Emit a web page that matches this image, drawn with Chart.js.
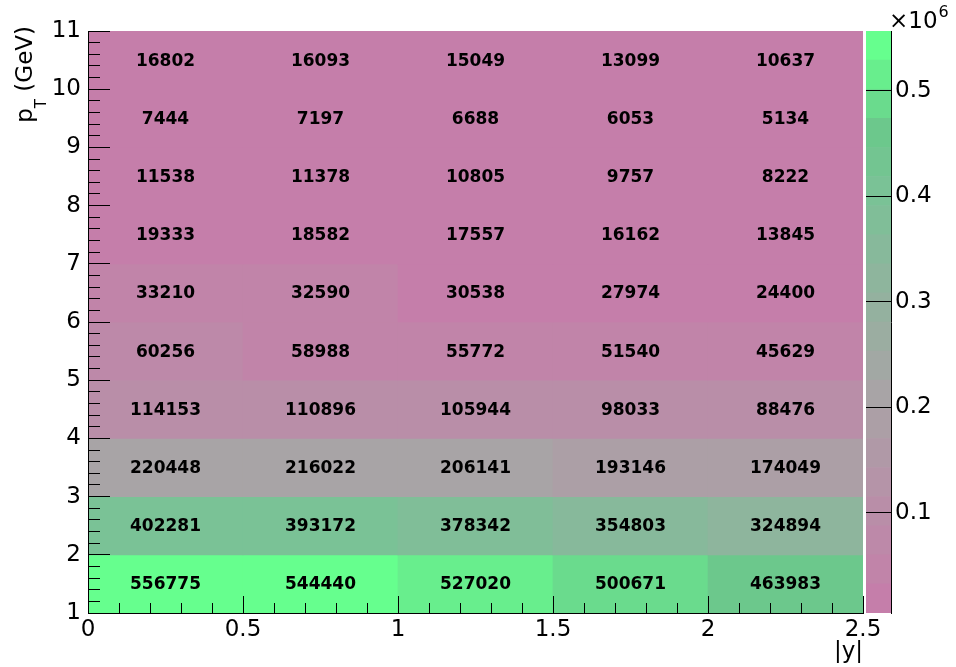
<!DOCTYPE html>
<html>
<head>
<meta charset="utf-8">
<script src="https://cdn.jsdelivr.net/npm/chart.js@4.4.1/dist/chart.umd.min.js"></script>
<style>
  html, body { margin: 0; padding: 0; background: #ffffff; }
  #wrap { position: relative; width: 956px; height: 667px; }
  #wrap canvas { position: absolute; left: 0; top: 0; }
</style>
</head>
<body>
<div id="wrap">
  <canvas id="main" width="956" height="667"></canvas>
  <canvas id="zbar" width="956" height="667"></canvas>
</div>
<script>
// Bin edges: |y| along x, pT (GeV) along y
const rapidityEdges = [0, 0.5, 1, 1.5, 2, 2.5];
const ptEdges = [1, 2, 3, 4, 5, 6, 7, 8, 9, 10, 11];

// Yields per pT bin, one value per |y| bin
const counts_pt1_2   = [556775, 544440, 527020, 500671, 463983];
const counts_pt2_3   = [402281, 393172, 378342, 354803, 324894];
const counts_pt3_4   = [220448, 216022, 206141, 193146, 174049];
const counts_pt4_5   = [114153, 110896, 105944, 98033, 88476];
const counts_pt5_6   = [60256, 58988, 55772, 51540, 45629];
const counts_pt6_7   = [33210, 32590, 30538, 27974, 24400];
const counts_pt7_8   = [19333, 18582, 17557, 16162, 13845];
const counts_pt8_9   = [11538, 11378, 10805, 9757, 8222];
const counts_pt9_10  = [7444, 7197, 6688, 6053, 5134];
const counts_pt10_11 = [16802, 16093, 15049, 13099, 10637];
const countsByPt = [counts_pt1_2, counts_pt2_3, counts_pt3_4, counts_pt4_5, counts_pt5_6,
                    counts_pt6_7, counts_pt7_8, counts_pt8_9, counts_pt9_10, counts_pt10_11];

// Axis ticks
const xTickValues = [0, 0.5, 1, 1.5, 2, 2.5];
const xTickLabels = ['0', '0.5', '1', '1.5', '2', '2.5'];
const yTickValues = [1, 2, 3, 4, 5, 6, 7, 8, 9, 10, 11];
const yTickLabels = ['1', '2', '3', '4', '5', '6', '7', '8', '9', '10', '11'];
const zTickValues = [100000, 200000, 300000, 400000, 500000];
const zTickLabels = ['0.1', '0.2', '0.3', '0.4', '0.5'];

// Pink -> grey -> green colour table
const paletteStops = [
  [0.00, [201, 121, 170]],
  [0.40, [168, 164, 166]],
  [0.75, [122, 194, 150]],
  [0.85, [108, 200, 140]],
  [1.00, [102, 255, 142]]
];
const N_COLORS = 255;
const N_CONTOURS = 20;

function paletteColor(idx) {
  const f = idx / (N_COLORS - 1);
  for (let i = 1; i < paletteStops.length; i++) {
    const [f0, c0] = paletteStops[i - 1];
    const [f1, c1] = paletteStops[i];
    if (f <= f1) {
      const t = (f - f0) / (f1 - f0);
      const c = c0.map((a, j) => Math.round(a + (c1[j] - a) * t));
      return `rgb(${c[0]},${c[1]},${c[2]})`;
    }
  }
  const c = paletteStops[paletteStops.length - 1][1];
  return `rgb(${c[0]},${c[1]},${c[2]})`;
}

const allCounts = countsByPt.flat();
const zMin = Math.min(...allCounts);
const zMax = Math.max(...allCounts);

function contourIndex(v) {
  return Math.floor(0.01 + (v - zMin) * N_CONTOURS / (zMax - zMin));
}
function contourColor(k) {
  let idx = Math.floor((k + 0.99) * N_COLORS / N_CONTOURS);
  if (idx > N_COLORS - 1) idx = N_COLORS - 1;
  return paletteColor(idx);
}

// One floating bar per cell
const cells = [];
const cellColors = [];
countsByPt.forEach((row, j) => {
  row.forEach((v, i) => {
    cells.push({ x: (rapidityEdges[i] + rapidityEdges[i + 1]) / 2, y: [ptEdges[j], ptEdges[j + 1]], v: v });
    cellColors.push(contourColor(contourIndex(v)));
  });
});

const minorX = [];
for (let k = 0; k <= 25; k++) minorX.push(k / 10);
const minorY = [];
for (let k = 0; k <= 50; k++) minorY.push(1 + k / 5);

const FONT = 'DejaVu Sans';

const cellLabels = {
  id: 'cellLabels',
  afterDatasetsDraw(chart) {
    const meta = chart.getDatasetMeta(0);
    const data = chart.data.datasets[0].data;
    const ctx = chart.ctx;
    ctx.save();
    ctx.font = `bold 17px "${FONT}"`;
    ctx.fillStyle = '#000';
    ctx.textAlign = 'center';
    ctx.textBaseline = 'middle';
    meta.data.forEach((bar, i) => {
      const p = bar.getCenterPoint();
      ctx.fillText(String(data[i].v), p.x, p.y + 1);
    });
    ctx.restore();
  }
};

const axisTitles = {
  id: 'axisTitles',
  afterDraw(chart) {
    const ctx = chart.ctx;
    const area = chart.chartArea;
    ctx.save();
    ctx.fillStyle = '#000';
    // |y| at the right end of the x axis
    ctx.font = `23px "${FONT}"`;
    ctx.textAlign = 'right';
    ctx.textBaseline = 'alphabetic';
    ctx.fillText('|y|', area.right, 658);
    // p_T (GeV) along the top of the y axis
    ctx.translate(32, area.top - 5);
    ctx.rotate(-Math.PI / 2);
    ctx.textAlign = 'left';
    const big = `23px "${FONT}"`;
    const small = `15px "${FONT}"`;
    ctx.font = big;
    const wP = ctx.measureText('p').width;
    const wRest = ctx.measureText(' (GeV)').width;
    ctx.font = small;
    const wT = ctx.measureText('T').width;
    let x0 = -(wP + wT + wRest);
    ctx.font = big;
    ctx.fillText('p', x0, 0);
    ctx.font = small;
    ctx.fillText('T', x0 + wP, 14);
    ctx.font = big;
    ctx.fillText(' (GeV)', x0 + wP + wT, 0);
    ctx.restore();
  }
};

const tickFont = { family: FONT, size: 23 };

// Inward tick marks: labels keep their own spacing, no extra layout padding from it
function noLabelOverhang(s) {
  s.paddingTop = 0;
  s.paddingBottom = 0;
  s.paddingLeft = 0;
  s.paddingRight = 0;
}

new Chart(document.getElementById('main'), {
  type: 'bar',
  data: {
    datasets: [{
      data: cells,
      backgroundColor: cellColors,
      borderWidth: 0,
      barPercentage: 1,
      categoryPercentage: 1,
      xAxisID: 'x',
      yAxisID: 'y'
    }]
  },
  options: {
    responsive: false,
    animation: false,
    devicePixelRatio: 1,
    layout: { padding: { left: 0, top: 31, right: 93, bottom: 0 } },
    plugins: { legend: { display: false }, tooltip: { enabled: false } },
    scales: {
      x: {
        type: 'linear', position: 'bottom', min: 0, max: 2.5, offset: false, weight: 1,
        afterBuildTicks: s => { s.ticks = xTickValues.map(v => ({ value: v })); },
        afterFit: s => { s.height = 54; noLabelOverhang(s); },
        grid: { offset: false, drawOnChartArea: false, drawTicks: true, tickLength: -17, tickColor: '#000', tickWidth: 1, z: 1 },
        border: { display: true, color: '#000', width: 1, z: 1 },
        ticks: { autoSkip: false, maxRotation: 0, padding: 20, color: '#000', font: tickFont,
                 callback: (v, i) => xTickLabels[i] }
      },
      xMinor: {
        type: 'linear', position: 'bottom', min: 0, max: 2.5, offset: false, weight: 0,
        afterBuildTicks: s => { s.ticks = minorX.map(v => ({ value: v })); },
        afterFit: s => { s.height = 0; noLabelOverhang(s); },
        grid: { offset: false, drawOnChartArea: false, drawTicks: true, tickLength: -10, tickColor: '#000', tickWidth: 1, z: 1 },
        border: { display: false },
        ticks: { display: false, autoSkip: false }
      },
      y: {
        type: 'linear', position: 'left', min: 1, max: 11, weight: 1,
        afterBuildTicks: s => { s.ticks = yTickValues.map(v => ({ value: v })); },
        afterFit: s => { s.width = 88; noLabelOverhang(s); },
        grid: { offset: false, drawOnChartArea: false, drawTicks: true, tickLength: -22, tickColor: '#000', tickWidth: 1, z: 1 },
        border: { display: true, color: '#000', width: 1, z: 1 },
        ticks: { autoSkip: false, padding: 29, color: '#000', font: tickFont,
                 callback: (v, i) => yTickLabels[i] }
      },
      yMinor: {
        type: 'linear', position: 'left', min: 1, max: 11, weight: 0,
        afterBuildTicks: s => { s.ticks = minorY.map(v => ({ value: v })); },
        afterFit: s => { s.width = 0; noLabelOverhang(s); },
        grid: { offset: false, drawOnChartArea: false, drawTicks: true, tickLength: -12, tickColor: '#000', tickWidth: 1, z: 1 },
        border: { display: false },
        ticks: { display: false, autoSkip: false }
      }
    }
  },
  plugins: [cellLabels, axisTitles]
});

// Colour scale: one band per contour level
const bandEdges = [];
for (let k = 0; k <= N_CONTOURS; k++) bandEdges.push(zMin + k * (zMax - zMin) / N_CONTOURS);

const bandDatasets = [];
for (let k = 0; k < N_CONTOURS; k++) {
  bandDatasets.push({
    data: [[bandEdges[k], bandEdges[k + 1]]],
    backgroundColor: contourColor(k),
    borderWidth: 0,
    grouped: false,
    barPercentage: 1,
    categoryPercentage: 1,
    xAxisID: 'cx',
    yAxisID: 'z'
  });
}

const exponentLabel = {
  id: 'exponentLabel',
  afterDraw(chart) {
    const ctx = chart.ctx;
    ctx.save();
    ctx.fillStyle = '#000';
    ctx.textAlign = 'left';
    ctx.textBaseline = 'alphabetic';
    ctx.font = `23px "${FONT}"`;
    const x = chart.chartArea.left + 23;
    ctx.fillText('\u00d710', x, 28);
    const w = ctx.measureText('\u00d710').width;
    ctx.font = `16px "${FONT}"`;
    ctx.fillText('6', x + w + 1, 17);
    ctx.restore();
  }
};

new Chart(document.getElementById('zbar'), {
  type: 'bar',
  data: { labels: ['z'], datasets: bandDatasets },
  options: {
    responsive: false,
    animation: false,
    devicePixelRatio: 1,
    layout: { padding: { left: 866, top: 31, right: 0, bottom: 54 } },
    plugins: { legend: { display: false }, tooltip: { enabled: false } },
    scales: {
      cx: { type: 'category', position: 'bottom', display: false, offset: true },
      z: {
        type: 'linear', position: 'right', min: zMin, max: zMax,
        afterBuildTicks: s => { s.ticks = zTickValues.map(v => ({ value: v })); },
        afterFit: s => { s.width = 65; noLabelOverhang(s); },
        grid: { drawOnChartArea: true, drawTicks: false, color: '#000', lineWidth: 1, z: 1 },
        border: { display: true, color: '#000', width: 1, z: 1 },
        ticks: { autoSkip: false, padding: 4, color: '#000', font: tickFont,
                 callback: (v, i) => zTickLabels[i] }
      }
    }
  },
  plugins: [exponentLabel]
});
</script>
</body>
</html>
